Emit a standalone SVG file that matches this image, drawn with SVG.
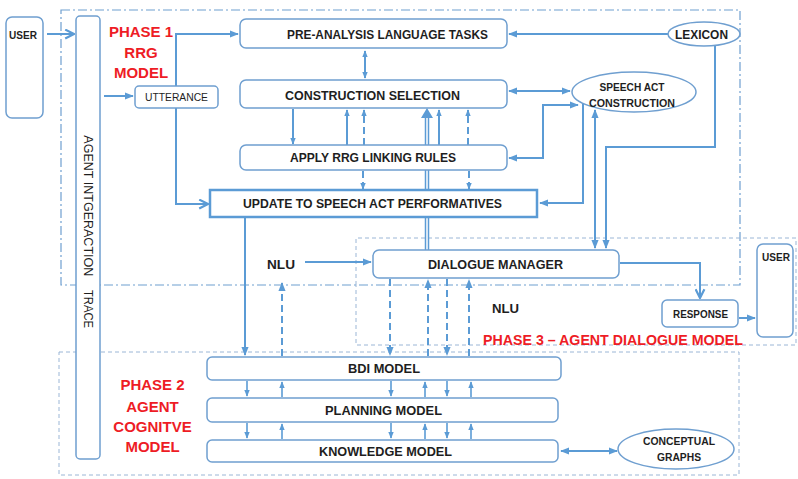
<svg xmlns="http://www.w3.org/2000/svg" width="798" height="479" viewBox="0 0 798 479">
  <style>
    .box { fill: #ffffff; stroke: #6f9fd0; stroke-width: 1.5; }
    .thick { stroke: #5b9bd5; stroke-width: 2.5; }
    .lbl { font-family: "Liberation Sans", Arial, sans-serif; font-weight: bold; font-size: 12px; fill: #1e1e1e; text-anchor: middle; }
    .sm { font-size: 10.5px; }
    .red { font-family: "Liberation Sans", Arial, sans-serif; font-weight: bold; font-size: 15px; fill: #ee1c25; text-anchor: middle; }
    .ln { fill: none; stroke: #5b9bd5; stroke-width: 2; }
    .thin { fill: none; stroke: #5b9bd5; stroke-width: 1.6; }
    .dash { stroke-dasharray: 7 4; }
    .zone1 { fill: none; stroke: #6f9fd0; stroke-width: 1.2; stroke-dasharray: 9 3 2 3; }
    .zone { fill: none; stroke: #9bb6d6; stroke-width: 1; stroke-dasharray: 4 3; }
  </style>
  <defs>
    <marker id="ah" viewBox="0 0 10 10" refX="9" refY="5" markerWidth="9" markerHeight="9" markerUnits="userSpaceOnUse" orient="auto-start-reverse">
      <path d="M0,1 L10,5 L0,9 z" fill="#5b9bd5"/>
    </marker>
    <marker id="ahs" viewBox="0 0 10 10" refX="9" refY="5" markerWidth="7" markerHeight="7" markerUnits="userSpaceOnUse" orient="auto-start-reverse">
      <path d="M0,1 L10,5 L0,9 z" fill="#5b9bd5"/>
    </marker>
    <marker id="ch" viewBox="0 0 10 10" refX="9" refY="5" markerWidth="11" markerHeight="11" markerUnits="userSpaceOnUse" orient="auto-start-reverse">
      <path d="M1,1 L9,5 L1,9" fill="none" stroke="#5b9bd5" stroke-width="2"/>
    </marker>
  </defs>

  <rect width="798" height="479" fill="#ffffff"/>

  <!-- phase zones -->
  <g id="zones">
    <rect class="zone1" x="61" y="10" width="679" height="275"/>
    <path class="zone" d="M356,285 V238 H796 V345 H356 V285"/>
    <rect class="zone" x="59" y="352" width="680" height="123"/>
  </g>

  <!-- phase titles -->
  <g id="titles">
    <text class="red" x="141" y="37">PHASE 1</text>
    <text class="red" x="141" y="58">RRG</text>
    <text class="red" x="141" y="78">MODEL</text>
    <text class="red" x="152.5" y="390">PHASE 2</text>
    <text class="red" x="152.5" y="412">AGENT</text>
    <text class="red" x="152.5" y="432">COGNITVE</text>
    <text class="red" x="152.5" y="452">MODEL</text>
    <text class="red" x="613" y="345" textLength="260" lengthAdjust="spacingAndGlyphs">PHASE 3 –  AGENT DIALOGUE MODEL</text>
  </g>

  <!-- connectors -->
  <g id="connectors">
    <path class="ln" d="M47,34 H74" marker-end="url(#ch)"/>
    <path class="ln" d="M104,96 H133" marker-end="url(#ah)"/>
    <path class="ln" d="M176,86 V34 H238" marker-end="url(#ah)"/>
    <path class="ln" d="M176,108 V204 H208" marker-end="url(#ch)"/>
    <path class="ln" d="M668,34 H509" marker-end="url(#ah)"/>
    <path class="ln" d="M365,51 V78" marker-start="url(#ahs)" marker-end="url(#ahs)"/>

    <!-- construction selection / linking rules -->
    <path class="ln" d="M293,109 V144" marker-end="url(#ahs)"/>
    <path class="ln" d="M347,145 V110" marker-end="url(#ahs)"/>
    <path class="ln dash" d="M364,145 V110" marker-end="url(#ahs)"/>
    <path class="ln" d="M439,145 V110" marker-end="url(#ahs)"/>
    <path class="ln dash" d="M468,145 V110" marker-end="url(#ahs)"/>
    <path class="ln dash" d="M363,171 V189" marker-end="url(#ahs)"/>
    <path class="ln dash" d="M469,171 V189" marker-end="url(#ahs)"/>

    <!-- double channel from dialogue manager -->
    <path d="M427,250 V116" fill="none" stroke="#5b9bd5" stroke-width="4.5"/>
    <path d="M427,250 V114" fill="none" stroke="#ffffff" stroke-width="1.5"/>
    <path d="M421,118 L427,108 L433,118 z" fill="#5b9bd5"/>

    <!-- speech act construction links -->
    <path class="ln" d="M509,91 H570" marker-start="url(#ah)" marker-end="url(#ah)"/>
    <path class="ln" d="M509,158 H543 V105 H578" marker-start="url(#ah)" marker-end="url(#ah)"/>
    <path class="ln" d="M583,103 V203 H540" marker-end="url(#ah)"/>
    <path class="ln" d="M595,110 V248" marker-start="url(#ah)" marker-end="url(#ah)"/>
    <path class="ln" d="M715,46 V147 H606 V248" marker-end="url(#ah)"/>

    <!-- dialogue manager -->
    <path class="ln" d="M305,262 H371" marker-end="url(#ah)"/>
    <path class="ln" d="M620,263 H700 V298" marker-end="url(#ch)"/>
    <path class="ln" d="M739,318 H755" marker-end="url(#ah)"/>

    <!-- into the cognitive model -->
    <path class="ln" d="M245,218 V355" marker-end="url(#ah)"/>
    <path class="ln dash" d="M282,356 V283" marker-end="url(#ah)"/>
    <path class="ln dash" d="M390,279 V355" marker-end="url(#ah)"/>
    <path class="ln dash" d="M428,356 V280" marker-end="url(#ah)"/>
    <path class="ln dash" d="M447,279 V355" marker-end="url(#ah)"/>
    <path class="ln dash" d="M469,356 V280" marker-end="url(#ah)"/>

    <!-- BDI / planning -->
    <path class="thin" d="M247,381 V396" marker-end="url(#ahs)"/>
    <path class="thin" d="M282,397 V382" marker-end="url(#ahs)"/>
    <path class="thin" d="M391,381 V396" marker-end="url(#ahs)"/>
    <path class="thin" d="M425,397 V382" marker-end="url(#ahs)"/>
    <path class="thin" d="M447,381 V396" marker-end="url(#ahs)"/>
    <path class="thin" d="M471,397 V382" marker-end="url(#ahs)"/>
    <!-- planning / knowledge -->
    <path class="thin" d="M247,423 V438" marker-end="url(#ahs)"/>
    <path class="thin" d="M282,439 V424" marker-end="url(#ahs)"/>
    <path class="thin" d="M391,423 V438" marker-end="url(#ahs)"/>
    <path class="thin" d="M425,439 V424" marker-end="url(#ahs)"/>
    <path class="thin" d="M447,423 V438" marker-end="url(#ahs)"/>
    <path class="thin" d="M471,439 V424" marker-end="url(#ahs)"/>

    <path class="ln" d="M561,451 H617" marker-start="url(#ah)" marker-end="url(#ah)"/>
  </g>

  <!-- nodes -->
  <g id="user-in">
    <rect class="box" x="6" y="17" width="37" height="101" rx="6"/>
    <text class="lbl sm" x="23" y="39" textLength="28" lengthAdjust="spacingAndGlyphs">USER</text>
  </g>
  <g id="trace">
    <rect class="box" x="76" y="16" width="24" height="443" rx="4"/>
    <text class="lbl" style="font-weight:normal" transform="translate(84,0) rotate(90)">
      <tspan x="207.5" y="0" textLength="141" lengthAdjust="spacingAndGlyphs">AGENT INTGERACTION</tspan>
      <tspan x="309" y="0" textLength="38" lengthAdjust="spacingAndGlyphs">TRACE</tspan>
    </text>
  </g>
  <g id="utterance">
    <rect class="box" x="135" y="86" width="83" height="22" rx="4"/>
    <text class="lbl sm" style="font-weight:normal" x="176.5" y="101" textLength="63" lengthAdjust="spacingAndGlyphs">UTTERANCE</text>
  </g>
  <g id="pre-analysis">
    <rect class="box" x="240" y="19" width="267" height="29" rx="6"/>
    <text class="lbl" x="387.5" y="38.5" textLength="201" lengthAdjust="spacingAndGlyphs">PRE-ANALYSIS LANGUAGE TASKS</text>
  </g>
  <g id="construction-selection">
    <rect class="box" x="240" y="80" width="267" height="28" rx="6"/>
    <text class="lbl" x="372.5" y="99.5" textLength="175" lengthAdjust="spacingAndGlyphs">CONSTRUCTION  SELECTION</text>
  </g>
  <g id="linking-rules">
    <rect class="box" x="240" y="145" width="267" height="25" rx="6"/>
    <text class="lbl" x="373" y="162" textLength="166" lengthAdjust="spacingAndGlyphs">APPLY RRG LINKING RULES</text>
  </g>
  <g id="performatives">
    <rect class="box thick" x="210" y="190" width="327" height="27"/>
    <text class="lbl" x="372.5" y="208" textLength="259" lengthAdjust="spacingAndGlyphs">UPDATE TO SPEECH ACT PERFORMATIVES</text>
  </g>
  <g id="lexicon">
    <ellipse class="box" cx="704" cy="34" rx="36" ry="12"/>
    <text class="lbl" x="701.5" y="38.5" textLength="53" lengthAdjust="spacingAndGlyphs">LEXICON</text>
  </g>
  <g id="speech-act">
    <ellipse class="box" cx="634" cy="92" rx="62" ry="20"/>
    <text class="lbl sm" x="632" y="91" textLength="65" lengthAdjust="spacingAndGlyphs">SPEECH ACT</text>
    <text class="lbl sm" x="632" y="107" textLength="86" lengthAdjust="spacingAndGlyphs">CONSTRUCTION</text>
  </g>
  <g id="nlu-in">
    <text class="lbl" x="281" y="268.5" textLength="28" lengthAdjust="spacingAndGlyphs">NLU</text>
  </g>
  <g id="dialogue-manager">
    <rect class="box" x="373" y="250" width="246" height="28" rx="6"/>
    <text class="lbl" x="495.5" y="268.5" textLength="135" lengthAdjust="spacingAndGlyphs">DIALOGUE MANAGER</text>
  </g>
  <g id="nlu-out">
    <text class="lbl" x="505.5" y="312.5" textLength="27" lengthAdjust="spacingAndGlyphs">NLU</text>
  </g>
  <g id="response">
    <rect class="box" x="662" y="300" width="76" height="27" rx="5"/>
    <text class="lbl sm" x="700.5" y="318" textLength="55" lengthAdjust="spacingAndGlyphs">RESPONSE</text>
  </g>
  <g id="user-out">
    <rect class="box" x="757" y="244" width="36" height="93" rx="6"/>
    <text class="lbl sm" x="776" y="261" textLength="28" lengthAdjust="spacingAndGlyphs">USER</text>
  </g>
  <g id="bdi">
    <rect class="box" x="207" y="357" width="354" height="23" rx="5"/>
    <text class="lbl" x="384" y="373" textLength="72" lengthAdjust="spacingAndGlyphs">BDI MODEL</text>
  </g>
  <g id="planning">
    <rect class="box" x="207" y="398" width="351" height="24" rx="5"/>
    <text class="lbl" x="383.5" y="414.5" textLength="117" lengthAdjust="spacingAndGlyphs">PLANNING MODEL</text>
  </g>
  <g id="knowledge">
    <rect class="box" x="207" y="440" width="351" height="22" rx="5"/>
    <text class="lbl" x="385.5" y="455.5" textLength="133" lengthAdjust="spacingAndGlyphs">KNOWLEDGE MODEL</text>
  </g>
  <g id="conceptual-graphs">
    <ellipse class="box" cx="676" cy="449" rx="58" ry="20"/>
    <text class="lbl sm" x="679" y="444.5" textLength="72" lengthAdjust="spacingAndGlyphs">CONCEPTUAL</text>
    <text class="lbl sm" x="679" y="460.5" textLength="44" lengthAdjust="spacingAndGlyphs">GRAPHS</text>
  </g>
</svg>
